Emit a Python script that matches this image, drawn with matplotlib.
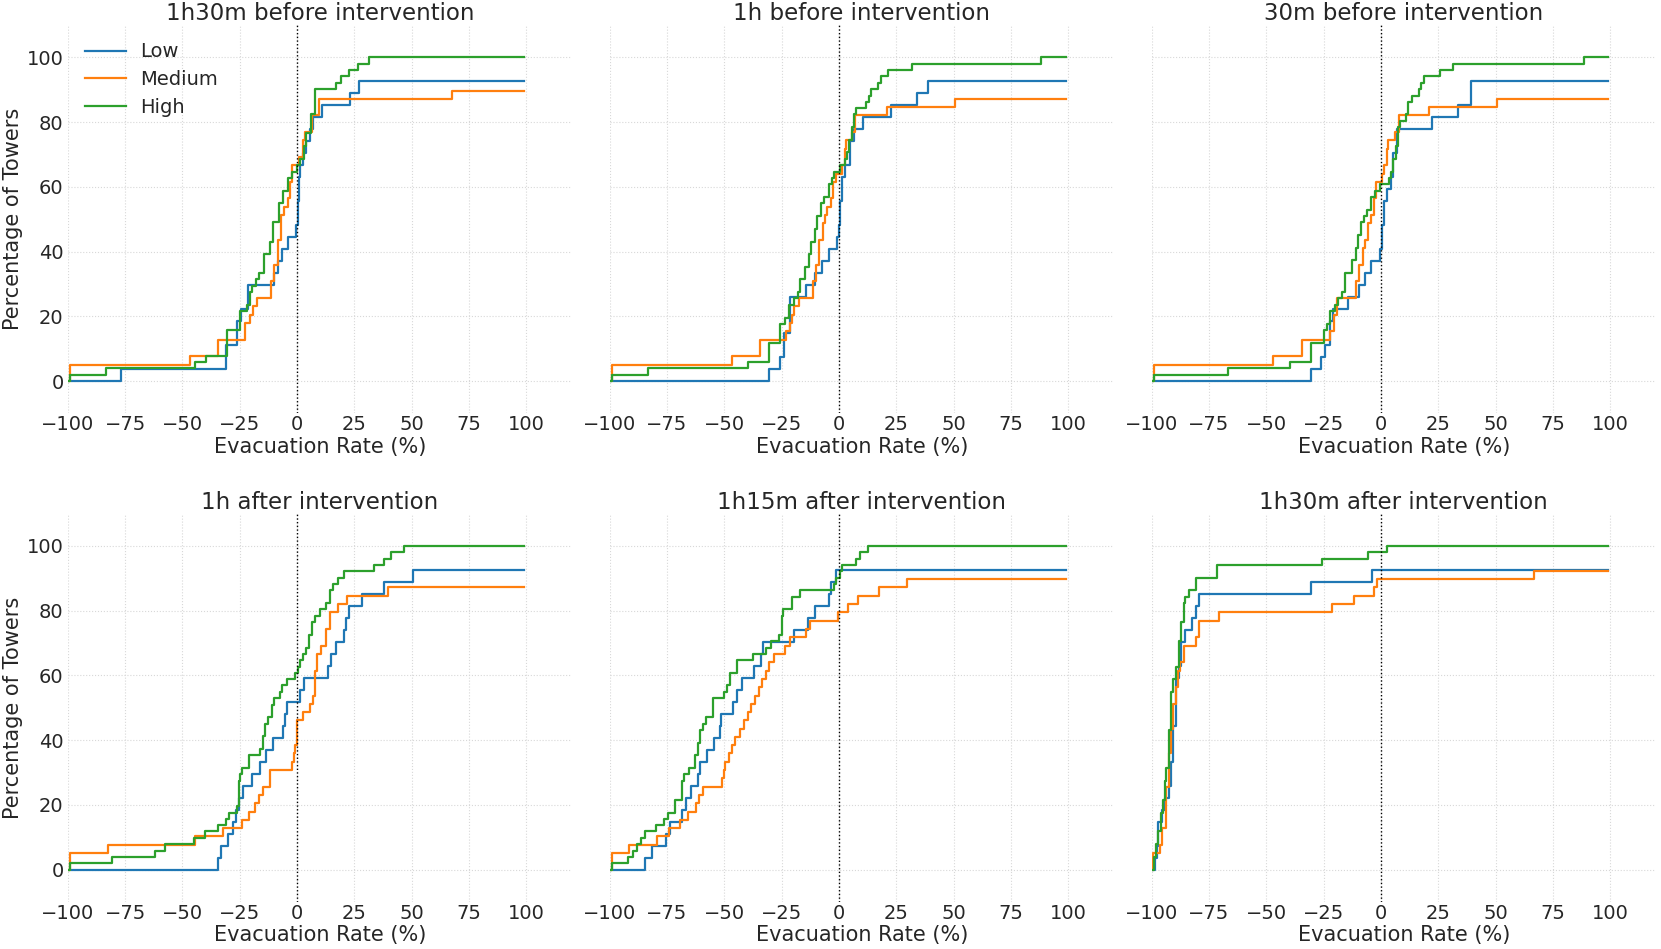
import matplotlib
matplotlib.use("Agg")
import matplotlib.pyplot as plt

plt.rcParams['font.family'] = ['DejaVu Sans']
TXT = '#262626'

titles = ["1h30m before intervention", "1h before intervention", "30m before intervention",
          "1h after intervention", "1h15m after intervention", "1h30m after intervention"]
groups = ["Low", "Medium", "High"]
colors = ["#1f77b4", "#ff7f0e", "#2ca02c"]
x_ticks = [-100, -75, -50, -25, 0, 25, 50, 75, 100]
y_ticks = [0, 20, 40, 60, 80, 100]

# ---- 1h30m before intervention ----
b90_low_x = [-100, -77, -31, -26, -24.5, -21.5, -10, -8.5, -6.5, -4, -0.5, 0.3, 0.8, 1.5, 2.5, 4, 5.5, 7, 11, 23, 27, 99]
b90_low_y = [0, 3.7, 11.1, 18.5, 22.2, 29.6, 33.3, 37, 40.7, 44.4, 48.1, 55.6, 63, 66.7, 70.4, 74.1, 77.8, 81.5, 85.2, 88.9, 92.6, 92.6]
b90_med_x = [-100, -99, -46.5, -34.5, -22.5, -20.5, -19, -17.5, -11.5, -10, -8.5, -7, -5.5, -4, -3, -2, 1, 2.5, 3.5, 6.5, 9.5, 67.5, 99]
b90_med_y = [0, 5.1, 7.7, 12.8, 17.9, 20.5, 23.1, 25.6, 30.8, 35.9, 43.6, 51.3, 53.8, 56.4, 61.5, 66.7, 69.2, 74.4, 76.9, 82.1, 87.2, 89.7, 89.7]
b90_high_x = [-100, -99, -83.5, -44.5, -39.5, -30.5, -25, -22, -20.5, -19.5, -18, -16.5, -14.5, -12, -10.5, -8, -6, -4, -2, 0, 1.5, 3, 4, 6, 8, 17, 19, 22.5, 26.5, 31.5, 99]
b90_high_y = [0, 2, 3.9, 5.9, 7.8, 15.7, 21.6, 23.5, 27.5, 29.4, 31.4, 33.3, 39.2, 43.1, 49, 54.9, 58.8, 62.7, 64.7, 66.7, 68.6, 72.5, 76.5, 82.4, 90.2, 92.2, 94.1, 96.1, 98, 100, 100]

# ---- 1h before intervention ----
b60_low_x = [-100, -30.5, -25.5, -24, -21.5, -14.5, -10.5, -7.5, -4.5, -1, 0, 0.5, 1.5, 2.5, 5, 6.5, 10.5, 22.5, 34, 39, 99]
b60_low_y = [0, 3.7, 7.4, 14.8, 25.9, 29.6, 33.3, 37, 40.7, 44.4, 48.1, 55.6, 63, 66.7, 74.1, 77.8, 81.5, 85.2, 88.9, 92.6, 92.6]
b60_med_x = [-100, -99, -46.5, -34.5, -23, -21.5, -20.5, -19.5, -17.5, -11.5, -10, -8.5, -7, -6, -5, -3.5, -2.5, -1.5, 1.5, 2.5, 3.2, 5.5, 7, 21, 50.5, 99]
b60_med_y = [0, 5.1, 7.7, 12.8, 15.4, 17.9, 20.5, 23.1, 25.6, 30.8, 35.9, 43.6, 48.7, 51.3, 53.8, 56.4, 61.5, 64.1, 66.7, 71.8, 74.4, 76.9, 82.1, 84.6, 87.2, 87.2]
b60_high_x = [-100, -99, -83.5, -39.5, -30.5, -25.5, -23.5, -22, -19.5, -18, -17, -15, -13, -12, -10.5, -9.5, -8, -6.5, -4.5, -3, -2, 0.5, 2.5, 3.5, 4.5, 5.5, 6.5, 7.5, 12, 13, 14, 17, 18.5, 21.5, 32, 88, 99]
b60_high_y = [0, 2, 3.9, 5.9, 11.8, 17.6, 19.6, 23.5, 25.5, 27.5, 31.4, 35.3, 39.2, 43.1, 47.1, 51, 54.9, 56.9, 60.8, 62.7, 64.7, 66.7, 68.6, 70.6, 74.5, 78.4, 82.4, 84.3, 86.3, 88.2, 90.2, 92.2, 94.1, 96.1, 98, 100, 100]

# ---- 30m before intervention ----
b30_low_x = [-100, -30.5, -26, -24.5, -22, -21, -14.5, -9.5, -7, -4.2, -0.5, 0.5, 1.5, 2.5, 4.5, 5.5, 7, 22.5, 33.5, 39.5, 99]
b30_low_y = [0, 3.7, 7.4, 11.1, 18.5, 22.2, 25.9, 29.6, 33.3, 37, 40.7, 48.1, 55.6, 59.3, 63, 70.4, 77.8, 81.5, 85.2, 92.6, 92.6]
b30_med_x = [-100, -99, -47, -34.5, -22, -20.5, -19, -11, -9.5, -8, -7, -5.5, -4.5, -3.2, -2.2, 0.5, 1.5, 2.5, 3, 6, 8, 21, 50.5, 99]
b30_med_y = [0, 5.1, 7.7, 12.8, 15.4, 20.5, 25.6, 30.8, 35.9, 41, 43.6, 48.7, 51.3, 56.4, 61.5, 64.1, 66.7, 71.8, 74.4, 76.9, 82.1, 84.6, 87.2, 87.2]
b30_high_x = [-100, -99, -66.5, -39.5, -30.5, -25, -23.5, -22, -20, -18.5, -17, -15.5, -12.5, -11, -10, -8.5, -7.5, -6, -4.5, -2.5, -0.5, 3.5, 4.5, 5.5, 6.5, 7.5, 8.5, 11, 12, 13.5, 16.5, 17.5, 19, 26, 31.5, 88.5, 99]
b30_high_y = [0, 2, 3.9, 5.9, 11.8, 15.7, 17.6, 21.6, 23.5, 25.5, 27.5, 33.3, 37.3, 41.2, 45.1, 49, 51, 52.9, 56.9, 58.8, 60.8, 62.7, 64.7, 68.6, 72.5, 78.4, 80.4, 82.4, 86.3, 88.2, 90.2, 92.2, 94.1, 96.1, 98, 100, 100]

# ---- 1h after intervention ----
a60_low_x = [-100, -34.5, -33, -30, -28, -26.5, -25.5, -23.5, -19.5, -16, -13.5, -10.5, -6, -5.2, -4.5, 1.5, 3, 13.5, 15, 17, 20.5, 21.5, 22.5, 28.5, 38, 50.5, 99]
a60_low_y = [0, 3.7, 7.4, 11.1, 14.8, 18.5, 22.2, 25.9, 29.6, 33.3, 37, 40.7, 44.4, 48.1, 51.9, 55.6, 59.3, 63, 66.7, 70.4, 74.1, 77.8, 81.5, 85.2, 88.9, 92.6, 92.6]
a60_med_x = [-100, -99, -82.5, -44.5, -32.5, -24, -21, -18.5, -16.5, -15, -12, -2, -1.5, -1, 0, 2.5, 5.5, 7, 8, 8.7, 10.5, 12.5, 14.5, 18, 22, 39.5, 99]
a60_med_y = [0, 5.1, 7.7, 10.3, 12.8, 15.4, 17.9, 20.5, 23.1, 25.6, 30.8, 33.3, 35.9, 38.5, 46.2, 48.7, 51.3, 53.8, 61.5, 66.7, 69.2, 74.4, 79.5, 82.1, 84.6, 87.2, 87.2]
a60_high_x = [-100, -99, -80.5, -62, -57.5, -45, -40, -34.5, -31, -29.5, -26, -25.5, -25, -24, -21, -16, -15, -14, -12.5, -11, -10, -7.5, -6.5, -4.5, -1, 0.5, 1.5, 2.5, 4, 5, 6.5, 8, 10, 12.5, 14.5, 15.5, 18, 20.5, 33.5, 38, 41, 46.5, 99]
a60_high_y = [0, 2, 3.9, 5.9, 7.8, 9.8, 11.8, 13.7, 15.7, 17.6, 19.6, 27.5, 29.4, 31.4, 35.3, 37.3, 41.2, 45.1, 47.1, 51, 52.9, 54.9, 56.9, 58.8, 60.8, 62.7, 64.7, 66.7, 68.6, 72.5, 76.5, 78.4, 80.4, 82.4, 86.3, 88.2, 90.2, 92.2, 94.1, 96.1, 98, 100, 100]

# ---- 1h15m after intervention ----
a75_low_x = [-100, -84.5, -81.5, -75.5, -73.5, -68.5, -66.5, -64.5, -61.5, -60.5, -57.5, -54.5, -52, -51.5, -46, -44.5, -42.5, -37, -34, -33, -19.5, -13.5, -10.5, -4.5, -3.5, -1.5, 99]
a75_low_y = [0, 3.7, 7.4, 11.1, 14.8, 18.5, 22.2, 25.9, 29.6, 33.3, 37, 40.7, 44.4, 48.1, 51.9, 55.6, 59.3, 63, 66.7, 70.4, 74.1, 77.8, 81.5, 85.2, 88.9, 92.6, 92.6]
a75_med_x = [-100, -99, -91.5, -79.5, -74, -69.5, -66, -62.5, -61, -59.5, -51, -50, -49.5, -48, -46.5, -45.5, -43, -41.5, -39.5, -38.5, -36.5, -35, -33.5, -32, -30.5, -28.5, -23.5, -21.5, -14.5, -12.5, -0.5, 4, 8.5, 17.5, 29.5, 99]
a75_med_y = [0, 5.1, 7.7, 10.3, 12.8, 15.4, 17.9, 20.5, 23.1, 25.6, 28.2, 30.8, 33.3, 35.9, 38.5, 41, 43.6, 46.2, 48.7, 51.3, 53.8, 56.4, 59, 61.5, 64.1, 66.7, 69.2, 71.8, 74.4, 76.9, 79.5, 82.1, 84.6, 87.2, 89.7, 89.7]
a75_high_x = [-100, -99, -92, -90, -88, -86.5, -84.5, -80, -76.5, -74.5, -71.5, -68.5, -67.5, -65.5, -63, -61.5, -60.5, -59.5, -58, -55, -50, -49, -47.5, -44.5, -37.5, -32, -29.5, -26, -25, -24.5, -20.5, -17, -2, -1.5, 0.5, 1.5, 7.5, 9, 12.5, 99]
a75_high_y = [0, 2, 3.9, 5.9, 7.8, 9.8, 11.8, 13.7, 15.7, 17.6, 21.6, 27.5, 29.4, 31.4, 35.3, 39.2, 43.1, 45.1, 47.1, 52.9, 54.9, 56.9, 60.8, 64.7, 66.7, 68.6, 70.6, 72.5, 78.4, 80.4, 84.3, 86.3, 88.2, 90.2, 92.2, 94.1, 96.1, 98, 100, 100]

# ---- 1h30m after intervention ----
a90_low_x = [-100, -98.5, -97.5, -97, -95.5, -94, -92.5, -91.5, -90.5, -89.5, -88, -87, -85.5, -82.5, -80.5, -79.5, -30.5, -4, 99]
a90_low_y = [0, 3.7, 7.4, 14.8, 18.5, 22.2, 25.9, 33.3, 44.4, 59.3, 63, 70.4, 74.1, 77.8, 81.5, 85.2, 88.9, 92.6, 92.6]
a90_med_x = [-100, -99.3, -96.5, -95.5, -93.5, -92.5, -91.5, -90.5, -89.5, -88.5, -87.5, -86, -80.5, -79.3, -70.5, -21.3, -11.9, -3.2, -1.7, 67, 99]
a90_med_y = [0, 5.1, 7.7, 12.8, 25.6, 35.9, 43.6, 51.3, 56.4, 61.5, 64.1, 69.2, 71.8, 76.9, 79.5, 82.1, 84.6, 87.2, 89.7, 92.3, 92.3]
a90_high_x = [-100, -99, -98, -97, -96, -95, -94, -93.5, -92.5, -91.5, -90.5, -89.5, -88, -87, -86, -85.5, -83.5, -80.5, -71.5, -25.5, -5.5, 2.5, 99]
a90_high_y = [0, 3.9, 7.8, 11.8, 17.6, 21.6, 27.5, 31.4, 43.1, 54.9, 58.8, 62.7, 70.6, 76.5, 82.4, 84.3, 86.3, 90.2, 94.1, 96.1, 98, 100, 100]

panels = [
    [(b90_low_x, b90_low_y), (b90_med_x, b90_med_y), (b90_high_x, b90_high_y)],
    [(b60_low_x, b60_low_y), (b60_med_x, b60_med_y), (b60_high_x, b60_high_y)],
    [(b30_low_x, b30_low_y), (b30_med_x, b30_med_y), (b30_high_x, b30_high_y)],
    [(a60_low_x, a60_low_y), (a60_med_x, a60_med_y), (a60_high_x, a60_high_y)],
    [(a75_low_x, a75_low_y), (a75_med_x, a75_med_y), (a75_high_x, a75_high_y)],
    [(a90_low_x, a90_low_y), (a90_med_x, a90_med_y), (a90_high_x, a90_high_y)],
]

fig, axes = plt.subplots(2, 3, figsize=(16.61, 9.49), dpi=100, sharey=True)
fig.subplots_adjust(left=0.0408, right=0.9970, top=0.9737, bottom=0.0495,
                    wspace=0.0743, hspace=0.258)

for i, ax in enumerate(axes.flat):
    for (xs, ys), name, c in zip(panels[i], groups, colors):
        ax.plot(xs, ys, drawstyle='steps-post', color=c, lw=1.6, label=name)
    ax.axvline(0, color='black', linestyle=':', lw=1.0)
    ax.set_xlim(-100, 120)
    ax.set_ylim(-10, 110)
    ax.set_xticks(x_ticks)
    ax.set_yticks(y_ticks)
    ax.grid(True, linestyle=':', color='#d8d8d8', lw=0.8)
    ax.set_axisbelow(True)
    for s in ax.spines.values():
        s.set_visible(False)
    ax.tick_params(axis='x', length=0, pad=1.5, labelsize=14, colors=TXT)
    ax.tick_params(axis='y', length=0, pad=3, labelsize=14, colors=TXT)
    ax.set_title(titles[i], fontsize=16.5, color=TXT, pad=3)
    ax.set_xlabel("Evacuation Rate (%)", fontsize=15, color=TXT, labelpad=1.5)
    if i % 3 == 0:
        ax.set_ylabel("Percentage of Towers", fontsize=15, color=TXT, labelpad=3)

leg = axes[0, 0].legend(loc='upper left', frameon=False, fontsize=14,
                        handlelength=2.1, handletextpad=0.7, labelspacing=0.45)
for t in leg.get_texts():
    t.set_color(TXT)

fig.savefig("out.png", dpi=100)
